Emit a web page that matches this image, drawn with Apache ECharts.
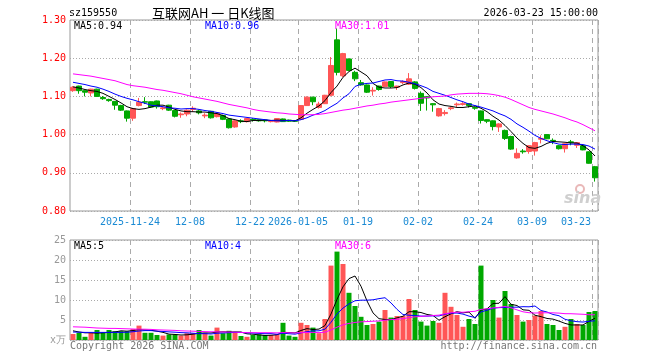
<!DOCTYPE html>
<html>
<head>
<meta charset="utf-8">
<script src="https://cdn.jsdelivr.net/npm/echarts@6/dist/echarts.min.js"></script>
<style>html,body{margin:0;padding:0;background:#fff}#c{width:660px;height:360px}</style>
</head>
<body>
<div id="c"></div>
<script>
const dates = [
 "2025-11-10","2025-11-11","2025-11-12","2025-11-13","2025-11-14",
 "2025-11-17","2025-11-18","2025-11-19","2025-11-20","2025-11-21",
 "2025-11-24","2025-11-25","2025-11-26","2025-11-27","2025-11-28",
 "2025-12-01","2025-12-02","2025-12-03","2025-12-04","2025-12-05",
 "2025-12-08","2025-12-09","2025-12-10","2025-12-11","2025-12-12",
 "2025-12-15","2025-12-16","2025-12-17","2025-12-18","2025-12-19",
 "2025-12-22","2025-12-23","2025-12-24","2025-12-25","2025-12-26",
 "2025-12-29","2025-12-30","2025-12-31",
 "2026-01-05","2026-01-06","2026-01-07","2026-01-08","2026-01-09",
 "2026-01-12","2026-01-13","2026-01-14","2026-01-15","2026-01-16",
 "2026-01-19","2026-01-20","2026-01-21","2026-01-22","2026-01-23",
 "2026-01-26","2026-01-27","2026-01-28","2026-01-29","2026-01-30",
 "2026-02-02","2026-02-03","2026-02-04","2026-02-05","2026-02-06",
 "2026-02-09","2026-02-10","2026-02-11","2026-02-12","2026-02-13",
 "2026-02-24","2026-02-25","2026-02-26","2026-02-27",
 "2026-03-02","2026-03-03","2026-03-04","2026-03-05","2026-03-06",
 "2026-03-09","2026-03-10","2026-03-11","2026-03-12","2026-03-13",
 "2026-03-16","2026-03-17","2026-03-18","2026-03-19","2026-03-20",
 "2026-03-23"
];
const openP = [1.115,1.127,1.115,1.109,1.119,1.097,1.092,1.087,1.076,1.062,
 1.043,1.076,1.086,1.086,1.088,1.068,1.077,1.063,1.052,1.054,
 1.066,1.062,1.049,1.061,1.047,1.050,1.041,1.020,1.036,1.034,
 1.040,1.039,1.038,1.034,1.033,1.041,1.038,1.036,1.040,1.076,
 1.098,1.071,1.081,1.103,1.248,1.154,1.198,1.163,1.136,1.130,
 1.114,1.127,1.126,1.139,1.124,1.136,1.132,1.138,1.108,1.099,
 1.081,1.049,1.055,1.068,1.078,1.079,1.081,1.071,1.062,1.039,
 1.036,1.020,1.011,0.995,0.939,0.957,0.956,0.957,0.988,1.000,
 0.985,0.971,0.963,0.981,0.972,0.971,0.955,0.916];
const closeP = [1.124,1.115,1.111,1.119,1.100,1.094,1.089,1.077,1.064,1.043,
 1.068,1.085,1.085,1.072,1.073,1.070,1.064,1.048,1.054,1.064,
 1.069,1.057,1.051,1.044,1.056,1.040,1.018,1.036,1.034,1.042,
 1.038,1.036,1.036,1.035,1.042,1.034,1.035,1.035,1.076,1.098,
 1.086,1.080,1.103,1.181,1.163,1.212,1.168,1.146,1.130,1.111,
 1.116,1.118,1.138,1.126,1.127,1.139,1.146,1.121,1.082,1.096,
 1.078,1.068,1.058,1.070,1.080,1.081,1.076,1.069,1.037,1.035,
 1.021,1.028,0.990,0.962,0.951,0.955,0.971,0.979,0.990,0.989,
 0.983,0.963,0.976,0.979,0.979,0.960,0.925,0.887];
const lowP = [1.112,1.107,1.100,1.100,1.099,1.091,1.086,1.065,1.062,1.034,
 1.036,1.074,1.080,1.070,1.068,1.064,1.062,1.045,1.044,1.048,
 1.060,1.053,1.043,1.042,1.045,1.038,1.016,1.018,1.030,1.032,
 1.034,1.034,1.032,1.032,1.032,1.033,1.033,1.033,1.038,1.075,
 1.077,1.068,1.080,1.100,1.155,1.150,1.166,1.140,1.128,1.109,
 1.102,1.115,1.125,1.122,1.117,1.132,1.130,1.118,1.062,1.063,
 1.060,1.047,1.050,1.064,1.072,1.076,1.071,1.065,1.029,1.030,
 1.011,1.007,0.986,0.960,0.937,0.950,0.950,0.945,0.977,0.988,
 0.975,0.961,0.953,0.972,0.965,0.959,0.924,0.877];
const highP = [1.127,1.128,1.116,1.120,1.120,1.101,1.094,1.088,1.078,1.063,
 1.070,1.096,1.098,1.087,1.089,1.074,1.078,1.064,1.058,1.066,
 1.074,1.065,1.056,1.062,1.058,1.052,1.042,1.038,1.040,1.044,
 1.043,1.040,1.040,1.037,1.043,1.042,1.039,1.038,1.077,1.100,
 1.099,1.086,1.104,1.203,1.278,1.214,1.199,1.167,1.143,1.131,
 1.124,1.128,1.139,1.140,1.128,1.142,1.161,1.140,1.113,1.101,
 1.082,1.070,1.064,1.074,1.084,1.085,1.082,1.074,1.063,1.040,
 1.037,1.030,1.013,0.997,0.964,0.962,0.972,0.981,0.998,1.001,
 0.990,0.973,0.977,0.986,0.980,0.972,0.956,0.918];
const ma5 = [1.125,1.122,1.118,1.115,1.113,1.108,1.100,1.092,1.083,1.073,
 1.068,1.066,1.068,1.072,1.077,1.077,1.072,1.066,1.062,1.060,
 1.060,1.059,1.059,1.057,1.055,1.050,1.042,1.039,1.035,1.034,
 1.037,1.037,1.038,1.037,1.038,1.037,1.037,1.036,1.044,1.056,
 1.066,1.075,1.089,1.110,1.127,1.150,1.165,1.174,1.164,1.154,
 1.134,1.124,1.122,1.122,1.123,1.130,1.135,1.132,1.123,1.109,
 1.091,1.080,1.076,1.074,1.071,1.071,1.073,1.075,1.069,1.060,
 1.048,1.038,1.024,1.008,0.991,0.977,0.966,0.964,0.969,0.977,
 0.982,0.981,0.980,0.978,0.978,0.971,0.960,0.944];
const ma10 = [1.137,1.134,1.131,1.127,1.124,1.119,1.113,1.106,1.100,1.095,
 1.091,1.086,1.082,1.077,1.075,1.073,1.070,1.069,1.067,1.068,
 1.068,1.066,1.063,1.061,1.058,1.055,1.051,1.049,1.047,1.045,
 1.043,1.041,1.039,1.037,1.036,1.036,1.037,1.036,1.039,1.044,
 1.051,1.056,1.063,1.073,1.082,1.096,1.107,1.126,1.132,1.134,
 1.135,1.139,1.143,1.144,1.141,1.140,1.137,1.133,1.128,1.122,
 1.113,1.108,1.103,1.097,1.091,1.086,1.080,1.076,1.072,1.067,
 1.062,1.055,1.049,1.040,1.028,1.019,1.009,0.998,0.990,0.984,
 0.979,0.975,0.974,0.975,0.975,0.974,0.970,0.962];
const ma30 = [1.159,1.157,1.155,1.153,1.150,1.147,1.144,1.141,1.136,1.131,
 1.128,1.126,1.124,1.121,1.118,1.116,1.113,1.110,1.107,1.103,
 1.099,1.096,1.093,1.090,1.087,1.083,1.079,1.076,1.073,1.070,
 1.066,1.063,1.061,1.059,1.057,1.056,1.054,1.053,1.052,1.052,
 1.052,1.053,1.055,1.058,1.061,1.064,1.066,1.069,1.072,1.075,
 1.077,1.080,1.082,1.085,1.087,1.089,1.091,1.093,1.095,1.097,
 1.099,1.100,1.101,1.104,1.106,1.107,1.108,1.108,1.108,1.107,
 1.105,1.102,1.098,1.092,1.085,1.078,1.071,1.066,1.062,1.058,
 1.054,1.049,1.044,1.038,1.033,1.026,1.018,1.010];
const volume = [1.5,1.8,0.8,1.8,2.5,1.9,2.5,2.2,2.2,2.2,
 2.75,3.6,1.8,1.8,1.25,1.1,1.4,1.4,1.1,1.7,
 1.7,2.5,1.8,1.1,3.1,1.7,2.3,1.9,1.0,0.8,
 1.25,1.4,1.25,1.25,1.4,4.3,1.1,0.8,4.3,3.75,
 3.1,1.7,5.25,18.6,22.1,19.0,11.8,8.5,5.8,3.75,
 4.0,4.6,7.5,5.6,6.0,6.0,10.25,7.5,4.6,3.6,
 4.75,4.3,11.8,8.3,6.25,3.3,5.25,4.0,18.6,7.75,
 10.0,5.6,12.25,9.0,6.25,4.6,5.0,6.1,7.25,4.0,
 3.75,2.5,3.3,5.25,4.0,3.75,7.0,7.25];
const volMa5 = [2.3,2.0,1.8,1.8,1.7,1.8,1.9,2.0,2.3,2.2,
 2.37,2.59,2.51,2.43,2.2,1.91,1.47,1.39,1.25,1.3,
 1.46,1.68,1.76,1.76,2.0,2.04,2.0,2.02,2.0,1.54,
 1.45,1.27,1.14,1.19,1.31,1.92,1.86,1.77,2.38,2.85,
 2.61,2.73,3.62,6.5,10.15,13.3,15.35,16.0,13.44,9.77,
 6.77,5.33,5.13,5.09,5.54,5.94,7.07,7.07,6.87,6.39,
 6.14,4.95,5.81,6.55,7.08,6.79,6.98,5.42,7.48,7.78,
 9.12,9.19,10.84,8.92,8.62,7.54,7.42,6.19,5.84,5.39,
 5.22,4.72,4.16,3.76,3.76,3.76,4.66,5.45];
const volMa10 = [2.0,1.95,1.9,1.9,1.9,1.9,1.9,1.9,1.9,1.94,
 2.07,2.25,2.35,2.35,2.22,2.14,2.03,1.95,1.84,1.79,
 1.69,1.58,1.58,1.5,1.69,1.75,1.84,1.89,1.88,1.79,
 1.75,1.64,1.58,1.6,1.43,1.69,1.57,1.46,1.79,2.08,
 2.27,2.3,2.7,4.43,6.5,7.97,9.04,9.81,9.96,9.96,
 10.05,10.34,10.57,9.27,7.66,6.36,6.2,6.1,5.98,5.97,
 6.04,6.01,6.44,6.71,6.74,6.47,5.97,5.62,7.02,7.43,
 7.96,8.09,8.13,8.2,8.2,8.33,8.3,8.5,7.38,7.0,
 6.38,6.07,5.18,4.8,4.58,4.49,4.69,4.8];
const volMa30 = [3.3,3.25,3.2,3.1,3.0,2.95,2.9,2.9,2.85,2.8,
 2.75,2.7,2.7,2.65,2.55,2.5,2.45,2.4,2.3,2.25,
 2.2,2.15,2.1,2.05,2.05,2.0,2.0,1.95,1.9,1.84,
 1.83,1.82,1.83,1.82,1.78,1.86,1.81,1.77,1.84,1.89,
 1.9,1.84,1.95,2.51,3.2,3.8,4.15,4.39,4.54,4.61,
 4.69,4.76,4.95,5.1,5.19,5.34,5.6,5.79,5.91,6.0,
 6.12,6.22,6.57,6.8,6.96,6.93,7.07,7.18,7.65,7.79,
 8.02,8.15,8.38,8.06,7.53,7.05,6.82,6.74,6.79,6.8,
 6.79,6.72,6.58,6.57,6.5,6.43,6.32,6.31];
const tickDates = ["2025-11-24","2025-12-08","2025-12-22","2026-01-05","2026-01-19","2026-02-02","2026-02-24","2026-03-09","2026-03-23"];
const tickTexts = ["2025-11-24","12-08","12-22","2026-01-05","01-19","02-02","02-24","03-09","03-23"];

const RED = '#ff5656', GREEN = '#00a800';
const MONO = '"DejaVu Sans Mono","Liberation Mono",monospace';
const tickIdx = tickDates.map(d => dates.indexOf(d));
const lastIdx = dates.length - 1;
const isTick = (i) => tickIdx.indexOf(i) >= 0;
const kData = dates.map((d, i) => [openP[i], closeP[i], lowP[i], highP[i]]);

const chart = echarts.init(document.getElementById('c'));
const lineS = (name, data, color, xi, yi) => ({
  name, type: 'line', data, xAxisIndex: xi, yAxisIndex: yi, showSymbol: false, symbol: 'none',
  lineStyle: { color, width: 1 }, silent: true, z: 3
});
const splitX = { show: true, interval: (i) => isTick(i), lineStyle: { color: '#aaa', width: 1, type: [5, 4] } };
const splitY = { show: true, lineStyle: { color: '#aaa', width: 1, type: [1, 2] } };
const labelFont = { fontFamily: MONO, fontSize: 10, color: '#1a8ad4' };

chart.setOption({
  animation: false,
  backgroundColor: '#fff',
  grid: [
    { left: 70, right: 62, top: 20, height: 191, show: true, borderColor: '#999', borderWidth: 1 },
    { left: 70, right: 62, top: 240, height: 100, show: true, borderColor: '#999', borderWidth: 1 }
  ],
  xAxis: [
    { type: 'category', gridIndex: 0, data: dates, boundaryGap: true,
      axisLine: { show: false }, axisTick: { show: false },
      axisLabel: { interval: (i) => isTick(i), margin: 6,
        formatter: (v, i) => { const k = tickDates.indexOf(v); const t = tickTexts[k]; return (dates.indexOf(v) === lastIdx ? '{e|' : '{n|') + t + '}'; },
        rich: { n: Object.assign({ padding: [0, 6, 0, 0] }, labelFont), e: Object.assign({ padding: [0, 38, 0, 0] }, labelFont) },
        fontFamily: MONO, fontSize: 10, color: '#1a8ad4' },
      splitLine: splitX },
    { type: 'category', gridIndex: 1, data: dates, boundaryGap: true,
      axisLine: { show: false }, axisTick: { show: false }, axisLabel: { show: false },
      splitLine: splitX }
  ],
  yAxis: [
    { type: 'value', gridIndex: 0, min: 0.8, max: 1.3, interval: 0.1, scale: true,
      axisLine: { show: false }, axisTick: { show: false },
      axisLabel: { formatter: (v) => v.toFixed(2), color: '#ff0000', fontFamily: MONO, fontSize: 10, margin: 4 },
      splitLine: splitY },
    { type: 'value', gridIndex: 1, min: 0, max: 25, interval: 5,
      axisLine: { show: false }, axisTick: { show: false },
      axisLabel: { formatter: (v) => v === 0 ? 'x万' : String(v), color: '#999', fontFamily: MONO, fontSize: 10, margin: 4 },
      splitLine: splitY }
  ],
  series: [
    { type: 'candlestick', data: kData, xAxisIndex: 0, yAxisIndex: 0, barWidth: 5,
      itemStyle: { color: RED, color0: GREEN, borderColor: RED, borderColor0: GREEN, borderWidth: 1 }, z: 2 },
    lineS('MA5', ma5, '#000000', 0, 0),
    lineS('MA10', ma10, '#0000ff', 0, 0),
    lineS('MA30', ma30, '#ff00ff', 0, 0),
    { type: 'bar', data: volume, xAxisIndex: 1, yAxisIndex: 1, barWidth: 5,
      itemStyle: { color: (p) => closeP[p.dataIndex] >= openP[p.dataIndex] ? RED : GREEN }, z: 2 },
    lineS('VMA5', volMa5, '#000000', 1, 1),
    lineS('VMA10', volMa10, '#0000ff', 1, 1),
    lineS('VMA30', volMa30, '#ff00ff', 1, 1)
  ],
  graphic: [
    { type: 'text', x: 69, y: 13, style: { text: 'sz159550', font: '10px ' + MONO, fill: '#000', textVerticalAlign: 'middle' } },
    { type: 'text', x: 152, y: 13, style: { text: '互联网AH 一 日K线图', font: '13px "Noto Sans CJK SC"', fill: '#000', textVerticalAlign: 'middle' } },
    { type: 'text', x: 598, y: 13, style: { text: '2026-03-23 15:00:00', font: '10px ' + MONO, fill: '#000', textAlign: 'right', textVerticalAlign: 'middle' } },
    { type: 'text', x: 74, y: 26, z: 10, style: { text: 'MA5:' + ma5[lastIdx].toFixed(2), font: '10px ' + MONO, fill: '#000', textVerticalAlign: 'middle' } },
    { type: 'text', x: 205, y: 26, z: 10, style: { text: 'MA10:' + ma10[lastIdx].toFixed(2), font: '10px ' + MONO, fill: '#0000ff', textVerticalAlign: 'middle' } },
    { type: 'text', x: 335, y: 26, z: 10, style: { text: 'MA30:' + ma30[lastIdx].toFixed(2), font: '10px ' + MONO, fill: '#ff00ff', textVerticalAlign: 'middle' } },
    { type: 'text', x: 74, y: 246, z: 10, style: { text: 'MA5:' + Math.floor(volMa5[lastIdx]), font: '10px ' + MONO, fill: '#000', textVerticalAlign: 'middle' } },
    { type: 'text', x: 205, y: 246, z: 10, style: { text: 'MA10:' + Math.floor(volMa10[lastIdx]), font: '10px ' + MONO, fill: '#0000ff', textVerticalAlign: 'middle' } },
    { type: 'text', x: 335, y: 246, z: 10, style: { text: 'MA30:' + Math.floor(volMa30[lastIdx]), font: '10px ' + MONO, fill: '#ff00ff', textVerticalAlign: 'middle' } },
    { type: 'text', x: 70, y: 346, style: { text: 'Copyright 2026 SINA.COM', font: '10px ' + MONO, fill: '#777', textVerticalAlign: 'middle' } },
    { type: 'text', x: 597, y: 346, style: { text: 'http://finance.sina.com.cn', font: '10px ' + MONO, fill: '#777', textAlign: 'right', textVerticalAlign: 'middle' } },
    { type: 'circle', shape: { cx: 580, cy: 189, r: 4 }, style: { fill: 'none', stroke: '#e9b8b8', lineWidth: 2 }, z: 1 },
    { type: 'text', x: 564, y: 199, z: 1, style: { text: 'sina', font: 'italic bold 16px "DejaVu Sans"', fill: '#cfcfcf', textVerticalAlign: 'middle' } }
  ]
});
</script>
</body>
</html>
